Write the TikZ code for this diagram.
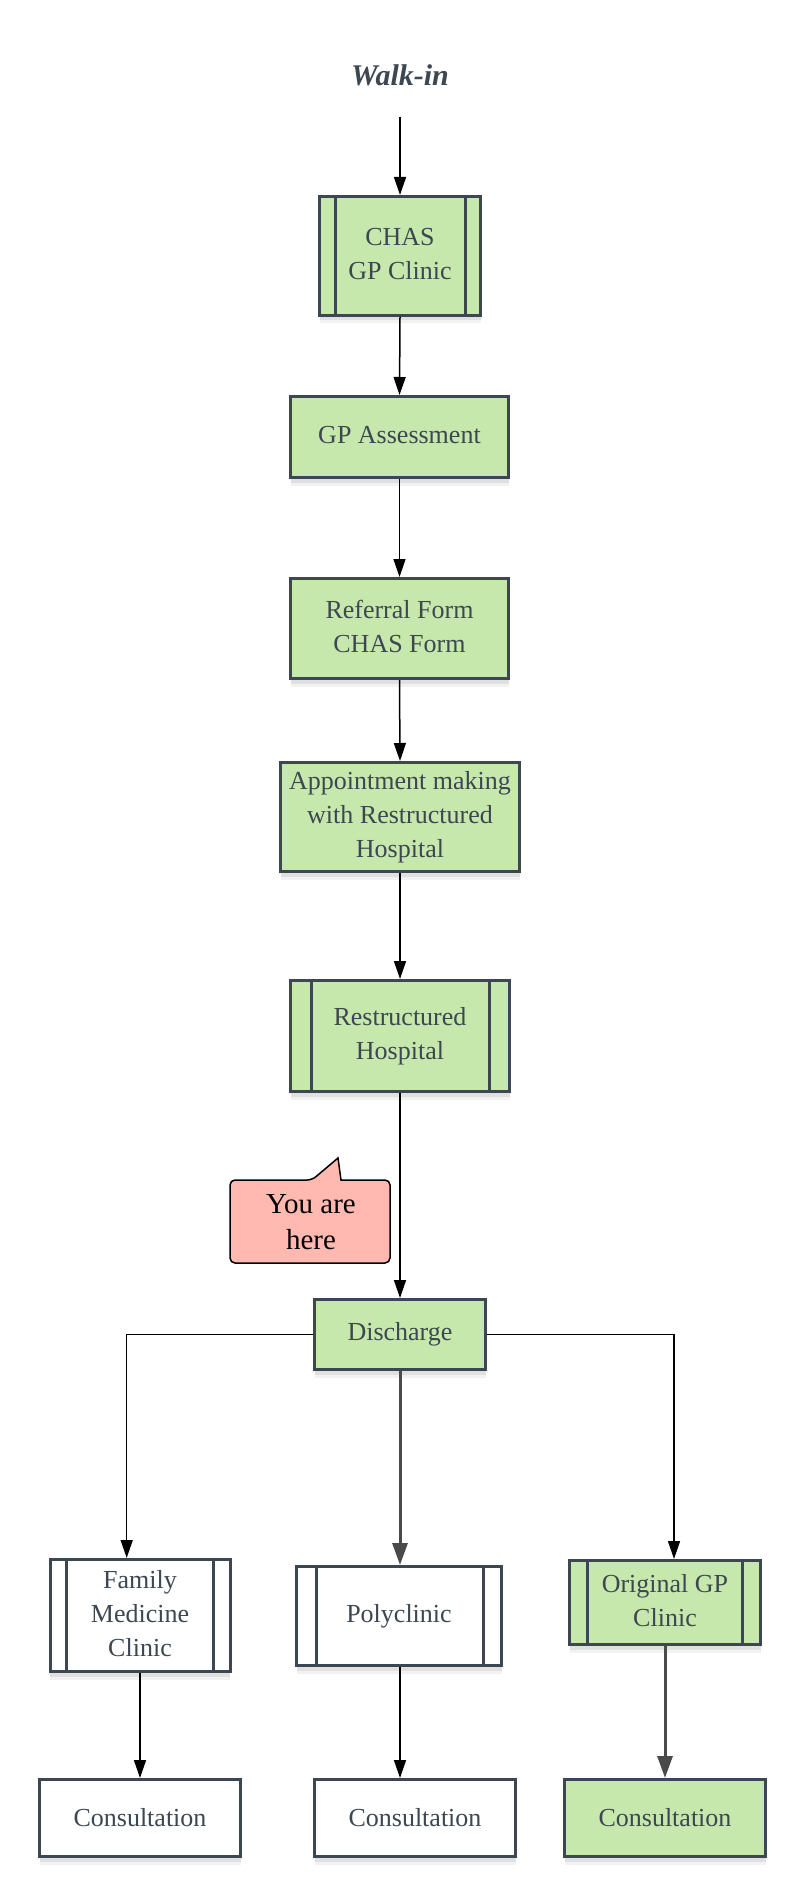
\documentclass[tikz,border=0pt]{standalone}
\usepackage{fontspec}
\setmainfont{Liberation Serif}
\usetikzlibrary{arrows.meta,shadows,calc}
\newcommand{\pxu}{0.75pt}
\definecolor{boxgreen}{HTML}{C7E8AC}
\definecolor{edgecol}{HTML}{3D4752}
\definecolor{calloutcol}{HTML}{FFB9B0}
\definecolor{thickgray}{HTML}{4A4A4A}
\newcommand{\sidebars}[3]{%
  \draw[edgecol, line width=3*\pxu] ([xshift=#2*\pxu]#1.north west) -- ([xshift=#2*\pxu]#1.south west);
  \draw[edgecol, line width=3*\pxu] ([xshift=-#3*\pxu]#1.north east) -- ([xshift=-#3*\pxu]#1.south east);}
\newcommand{\lifted}[1]{\raisebox{1.5pt}{\begin{tabular}{@{}c@{}}#1\end{tabular}}}
\begin{document}
\begin{tikzpicture}[x=0.75pt,y=-0.75pt,
  basebox/.style={draw=edgecol, line width=3*\pxu, text=edgecol, inner sep=0pt, align=center,
    font=\fontsize{19.5}{25.5}\selectfont,
    general shadow={fill=black, opacity=0.07, shadow xshift=0pt, shadow yshift=-5*\pxu},
    general shadow={fill=black, opacity=0.05, shadow xshift=0pt, shadow yshift=-8*\pxu}},
  gbox/.style={basebox, fill=boxgreen},
  wbox/.style={basebox, fill=white},
  arr/.style={-{Triangle[length=18*\pxu,width=12*\pxu]}, line width=1.5*\pxu, black},
  thickarr/.style={-{Triangle[length=22*\pxu,width=15*\pxu]}, line width=3*\pxu, draw=thickgray, fill=thickgray},
]
\useasboundingbox[fill=white] (0,0) rectangle (805,1897);

\node[font=\fontsize{22.5}{27}\selectfont\bfseries\itshape, text=edgecol] (walk) at (400,75) {Walk-in};
\coordinate (walkend) at (400,117);

\node[gbox, minimum width=161*\pxu, minimum height=119*\pxu] (chas) at (400,256) {\lifted{CHAS\\GP Clinic}};
\sidebars{chas}{17}{17}
\node[gbox, minimum width=218*\pxu, minimum height=81*\pxu] (gpa) at (399.5,437) {\lifted{GP Assessment}};
\node[gbox, minimum width=218*\pxu, minimum height=100*\pxu] (ref) at (399.5,628.5) {\lifted{Referral Form\\CHAS Form}};
\node[gbox, minimum width=239*\pxu, minimum height=109*\pxu] (app) at (400,817) {Appointment making\\with Restructured\\Hospital};
\node[gbox, minimum width=219*\pxu, minimum height=111*\pxu] (rh) at (400,1036) {Restructured\\Hospital};
\sidebars{rh}{22}{22}
\node[gbox, minimum width=171*\pxu, minimum height=70*\pxu] (disc) at (400,1334.5) {Discharge};

\node[wbox, minimum width=180*\pxu, minimum height=112*\pxu] (fam) at (140,1615.5) {\lifted{Family\\Medicine\\Clinic}};
\sidebars{fam}{18}{18}
\node[wbox, minimum width=205*\pxu, minimum height=99*\pxu] (poly) at (399,1616) {Polyclinic};
\sidebars{poly}{21}{20}
\node[gbox, minimum width=191*\pxu, minimum height=84*\pxu] (ogp) at (665,1602.5) {\lifted{Original GP\\Clinic}};
\sidebars{ogp}{19.5}{19.5}

\node[wbox, minimum width=201*\pxu, minimum height=77*\pxu] (c1) at (140,1818) {Consultation};
\node[wbox, minimum width=201*\pxu, minimum height=77*\pxu] (c2) at (415,1818) {Consultation};
\node[gbox, minimum width=201*\pxu, minimum height=77*\pxu] (c3) at (665,1818) {Consultation};

% callout
\draw[fill=calloutcol, draw=black, line width=1.5*\pxu]
  (312,1180) -- (338,1158) -- (341,1180)
  [rounded corners=5*\pxu] -- (390,1180) -- (390,1263) -- (230,1263) -- (230,1180) -- cycle;
\node[font=\fontsize{21.75}{27.5}\selectfont, align=center, text=black] (here) at (311,1222) {You are\\here};

% connectors
\draw[arr] (walkend) -- (chas.north);
\draw[arr] (chas.south) -- (gpa.north);
\draw[arr] (gpa.south) -- (ref.north);
\draw[arr] (ref.south) -- (app.north);
\draw[arr] (app.south) -- (rh.north);
\draw[arr] (rh.south) -- (rh.south |- disc.north);
\draw[arr] (disc.west) -| ([xshift=-13.3*\pxu]fam.north);
\draw[arr] (disc.east) -| ([xshift=9*\pxu]ogp.north);
\draw[thickarr] (disc.south) -- (disc.south |- poly.north);
\draw[arr] (fam.south) -- (fam.south |- c1.north);
\draw[arr] ([xshift=1*\pxu]poly.south) -- ([xshift=1*\pxu]poly.south |- c2.north);
\draw[thickarr] (ogp.south) -- (c3.north);
\end{tikzpicture}
\end{document}
